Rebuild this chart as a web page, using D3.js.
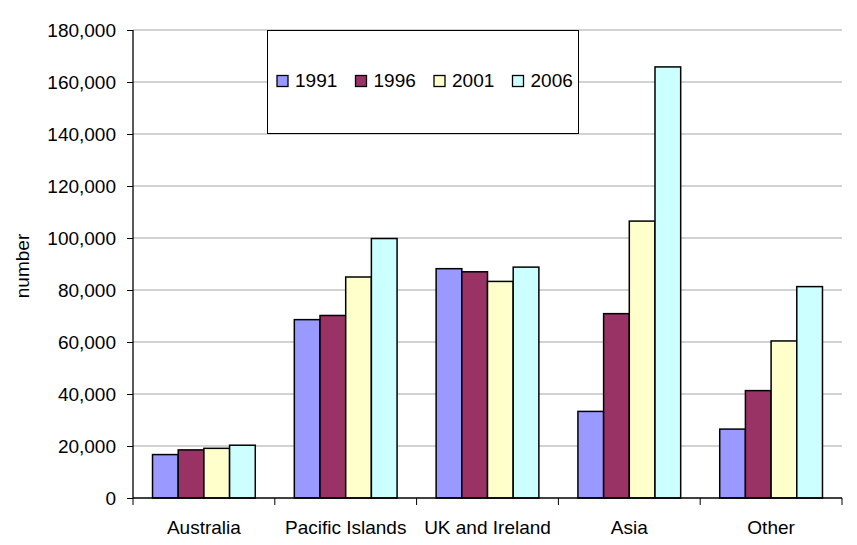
<!DOCTYPE html>
<html><head><meta charset="utf-8">
<script src="https://cdn.jsdelivr.net/npm/d3@7"></script>
<style>body{margin:0;background:#fff}svg{display:block}text{font-family:"Liberation Sans",Arial,sans-serif;fill:#000}</style>
</head><body><svg id="c" width="857" height="545"></svg>
<script>
const categories = ["Australia","Pacific Islands","UK and Ireland","Asia","Other"];
const seriesNames = ["1991","1996","2001","2006"];
const v1991 = [16700, 68600, 88200, 33300, 26500];
const v1996 = [18500, 70200, 87000, 70900, 41300];
const v2001 = [19100, 85000, 83300, 106500, 60400];
const v2006 = [20300, 99800, 88800, 165800, 81300];
const yTicks = [0,20000,40000,60000,80000,100000,120000,140000,160000,180000];
const colors = ["#9999FF","#993366","#FFFFCC","#CCFFFF"];

const values = [v1991, v1996, v2001, v2006];
const svg = d3.select("#c");
const L = 133, R = 842, T = 30, B = 498;
const y = d3.scaleLinear().domain([0,180000]).range([B,T]);
const x0 = d3.scaleBand().domain(categories).range([L,R]).padding(0);
const x1 = d3.scaleBand().domain(seriesNames).range([0,x0.bandwidth()]).paddingInner(0).paddingOuter(0.76);
const fmt = d3.format(",");

// gridlines
svg.append("g").selectAll("line").data(yTicks.filter(d=>d>0)).join("line")
  .attr("x1",L).attr("x2",R).attr("y1",d=>y(d)).attr("y2",d=>y(d))
  .attr("stroke","#a6a6a6").attr("stroke-width",1.2);

// legend box
const lg = svg.append("g");
lg.append("rect").attr("x",267.5).attr("y",30.5).attr("width",311).attr("height",103)
  .attr("fill","#fff").attr("stroke","#000").attr("stroke-width",1);
seriesNames.forEach((s,i)=>{
  const lx = 277 + i*78.5;
  lg.append("rect").attr("x",lx).attr("y",75.5).attr("width",11).attr("height",11)
    .attr("fill",colors[i]).attr("stroke","#000").attr("stroke-width",1.3);
  lg.append("text").attr("x",lx+18).attr("y",87).attr("font-size",19).text(s);
});

// bars
const g = svg.append("g");
seriesNames.forEach((s,i)=>{
  g.selectAll(null).data(categories).join("rect")
    .attr("x",c=>x0(c)+x1(s)).attr("width",x1.bandwidth())
    .attr("y",(c,j)=>y(values[i][j])).attr("height",(c,j)=>B-y(values[i][j]))
    .attr("fill",colors[i]).attr("stroke","#000").attr("stroke-width",1.5);
});

// y axis
const ya = svg.append("g").attr("transform",`translate(${L},0)`)
  .call(d3.axisLeft(y).tickValues(yTicks).tickFormat(fmt).tickSize(6).tickPadding(11));
ya.select(".domain").attr("stroke","#000").attr("stroke-width",1.3).attr("d",`M0,${T}V${B}`);
ya.selectAll("text").attr("font-size",19).attr("font-family",'"Liberation Sans",Arial,sans-serif');
ya.selectAll(".tick line").attr("stroke","#000");

// x axis
const xa = svg.append("g").attr("transform",`translate(0,${B})`);
xa.append("line").attr("x1",L).attr("x2",R).attr("stroke","#000").attr("stroke-width",1.3);
const bounds = categories.map(c=>x0(c)).concat([R]);
xa.selectAll(".bt").data(bounds).join("line").attr("class","bt")
  .attr("x1",d=>d).attr("x2",d=>d).attr("y1",0).attr("y2",7).attr("stroke","#000");
xa.selectAll(".cl").data(categories).join("text").attr("class","cl")
  .attr("x",c=>x0(c)+x0.bandwidth()/2).attr("y",36).attr("text-anchor","middle")
  .attr("font-size",19).text(c=>c);

// y label
svg.append("text").attr("transform","translate(29,266) rotate(-90)")
  .attr("text-anchor","middle").attr("font-size",19).text("number");
</script></body></html>
